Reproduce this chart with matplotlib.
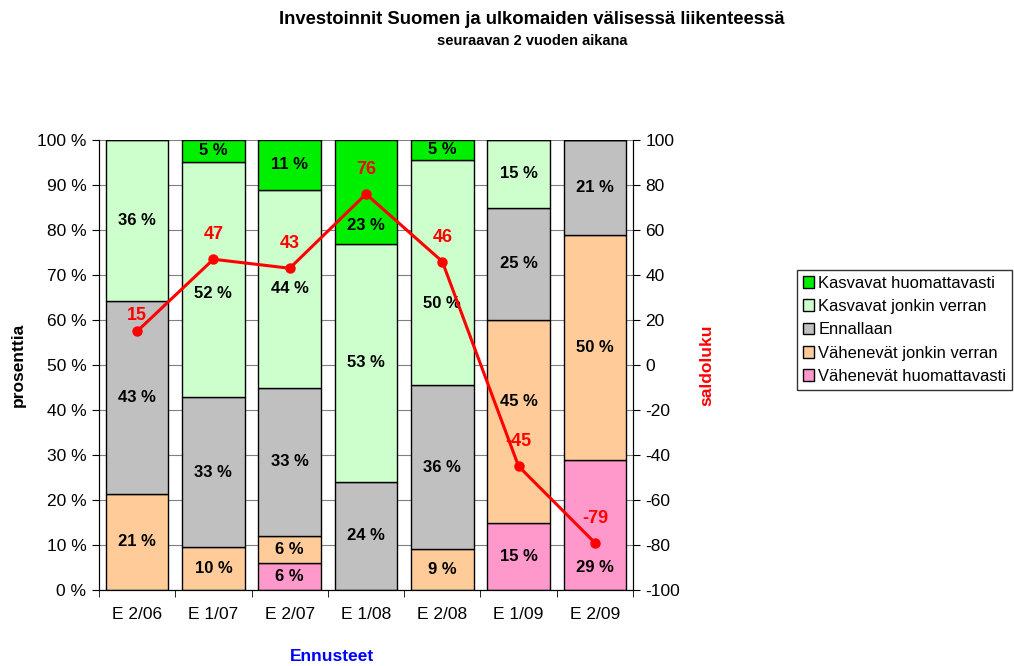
import matplotlib
matplotlib.use("Agg")
import matplotlib.pyplot as plt
import numpy as np

plt.rcParams['font.family'] = ['Liberation Sans', 'DejaVu Sans']

categories = ["E 2/06", "E 1/07", "E 2/07", "E 1/08", "E 2/08", "E 1/09", "E 2/09"]
series_names = ["Kasvavat huomattavasti", "Kasvavat jonkin verran", "Ennallaan",
                "Vähenevät jonkin verran", "Vähenevät huomattavasti"]
vah_huom = [0, 0, 6, 0, 0, 15, 29]
vah_jonk = [21.4, 9.5, 6, 0, 9.1, 45, 50]
ennallaan = [42.9, 33.3, 33, 24, 36.4, 25, 21]
kasv_jonk = [35.7, 52.4, 44, 53, 50, 15, 0]
kasv_huom = [0, 4.8, 11, 23, 4.6, 0, 0]
saldo = [15, 47, 43, 76, 46, -45, -79]

# label positions moved away from the line (y in %), as in the original chart
label_y_override = {
    ("Kasvavat jonkin verran", 1): 66.0,
    ("Kasvavat huomattavasti", 3): 81.0,
    ("Kasvavat jonkin verran", 4): 63.6,
    ("Vähenevät jonkin verran", 5): 42.0,
    ("Vähenevät huomattavasti", 6): 5.0,
}
saldo_label_offset = {0: 11.5}

colors = {
    "Kasvavat huomattavasti": "#00EE00",
    "Kasvavat jonkin verran": "#CCFFCC",
    "Ennallaan": "#C0C0C0",
    "Vähenevät jonkin verran": "#FFCC99",
    "Vähenevät huomattavasti": "#FF99CC",
}

FS = 12.5

fig = plt.figure(figsize=(10.14, 6.66), dpi=100)
ax = fig.add_axes([99/1014, 1-590/666, (633-99)/1014, (590-140)/666])

x = np.arange(len(categories))
stack = [("Vähenevät huomattavasti", vah_huom), ("Vähenevät jonkin verran", vah_jonk),
         ("Ennallaan", ennallaan), ("Kasvavat jonkin verran", kasv_jonk),
         ("Kasvavat huomattavasti", kasv_huom)]
bottom = np.zeros(len(categories))
handles = {}
for name, vals in stack:
    vals = np.array(vals, dtype=float)
    b = ax.bar(x, vals, bottom=bottom, width=0.82, color=colors[name],
               edgecolor="black", linewidth=1.0, zorder=2, label=name)
    handles[name] = b
    for i, (xi, v, bt) in enumerate(zip(x, vals, bottom)):
        if v > 0:
            ypos = label_y_override.get((name, i), bt + v/2)
            ax.text(xi, ypos, f"{round(v):d} %", ha="center", va="center",
                    fontsize=12, fontweight="bold", color="black", zorder=4)
    bottom += vals

ax.set_xlim(-0.5, len(categories) - 0.5)
ax.set_ylim(0, 100)
ax.set_yticks(np.arange(0, 101, 10))
ax.set_yticklabels([f"{v} %" for v in range(0, 101, 10)], fontsize=FS)
ax.yaxis.grid(True, color="#808080", linewidth=0.8, zorder=0)
ax.set_axisbelow(True)
ax.set_xticks(x)
ax.set_xticklabels(categories, fontsize=FS)
ax.tick_params(axis="x", length=0, pad=12)
ax.set_xticks(np.arange(-0.5, len(categories), 1), minor=True)
ax.tick_params(axis="x", which="minor", length=5, direction="out", color="black")
ax.tick_params(axis="y", length=5, direction="out", color="black", pad=4)
ax.spines["top"].set_visible(False)
ax.set_ylabel("prosenttia", fontsize=FS, fontweight="bold", labelpad=8)
ax.set_xlabel("Ennusteet", fontsize=FS, fontweight="bold", color="#0000FF")
ax.xaxis.set_label_coords((332 - 99) / 534, (590 - 649) / 450)

ax2 = ax.twinx()
ax2.set_ylim(-100, 100)
ax2.set_yticks(np.arange(-100, 101, 20))
ax2.set_yticklabels([str(v) for v in range(-100, 101, 20)], fontsize=FS)
ax2.tick_params(axis="y", length=5, direction="out", color="black", pad=4)
ax2.spines["top"].set_visible(False)
ax2.plot(x, saldo, color="#FF0000", linewidth=2.2, marker="o", markersize=6.5, zorder=5)
for i, (xi, v) in enumerate(zip(x, saldo)):
    off = saldo_label_offset.get(i, 17.5)
    ax2.annotate(str(v), (xi, v), xytext=(0, off), textcoords="offset points",
                 ha="center", va="center", fontsize=13, fontweight="bold", color="#FF0000")
ax2.set_ylabel("saldoluku", fontsize=FS, fontweight="bold", color="#FF0000", labelpad=14)
ax2.set_zorder(ax.get_zorder() + 1)
ax2.patch.set_visible(False)

fig.text(532/1014, 1-19/666, "Investoinnit Suomen ja ulkomaiden välisessä liikenteessä",
         ha="center", va="center", fontsize=13.3, fontweight="bold")
fig.text(532/1014, 1-41/666, "seuraavan 2 vuoden aikana",
         ha="center", va="center", fontsize=10.5, fontweight="bold")

leg = fig.legend([handles[n] for n in series_names], series_names,
                 loc="upper left", bbox_to_anchor=(797/1014, 1-270/666),
                 fontsize=11.9, frameon=True, fancybox=False, edgecolor="black",
                 handlelength=0.7, handleheight=0.7, handletextpad=0.25,
                 borderpad=0.35, labelspacing=0.5, borderaxespad=0)
leg.get_frame().set_linewidth(1.0)

fig.savefig("out.png", dpi=100)
